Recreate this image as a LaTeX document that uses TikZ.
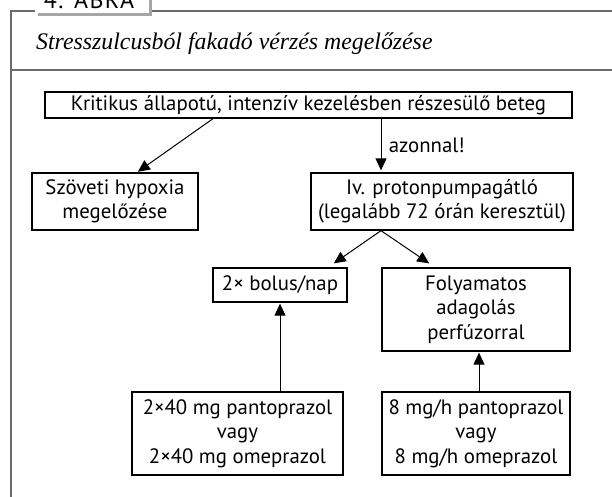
\documentclass[tikz,border=0pt]{standalone}
\usepackage{fontspec}
\setmainfont{PT Sans}
\newfontfamily\titlefont{Liberation Serif}
\newfontfamily\tabfont[LetterSpace=6]{PT Sans}
\usetikzlibrary{arrows.meta}
\begin{document}
\begin{tikzpicture}[x=1pt,y=-1pt,
  box/.style={draw=black, line width=1.3pt, rectangle, inner sep=0pt, align=center,
    font=\fontsize{20.8}{24.5}\selectfont},
  arr/.style={line width=1pt, -{Triangle[length=12pt,width=11pt]}},
  frameline/.style={draw=black!58, line width=2pt}]
\useasboundingbox (0,0) rectangle (612,497);
% frame
\draw[frameline] (11,497) -- (11,11) -- (35,11);
\draw[frameline] (152,11) -- (612,11);
\draw[frameline] (11,70) -- (612,70);
% tab
\fill[black!35] (38,-5) rectangle (152,16);
\fill[white] (35,-5) rectangle (149,13);
\node[anchor=base, inner sep=0pt, font=\tabfont\fontsize{24}{28}\selectfont] (tab) at (89,8.5) {4. ÁBRA};
% title
\node[anchor=base west, inner sep=0pt, font=\titlefont\itshape\fontsize{23.8}{28}\selectfont] (title) at (36,50) {Stresszulcusból fakadó vérzés megelőzése};
% boxes
\node[box, minimum width=527pt, minimum height=26pt] (main) at (308.5,105) {Kritikus állapotú, intenzív kezelésben részesülő beteg};
\node[box, minimum width=166pt, minimum height=57pt] (szov) at (115,201.5) {Szöveti hypoxia\\megelőzése};
\node[box, minimum width=262pt, minimum height=57pt] (iv) at (442,201.5) {Iv. protonpumpagátló\\(legalább 72 órán keresztül)};
\node[box, minimum width=134pt, minimum height=34pt] (bolus) at (280,285) {2× bolus/nap};
\node[box, minimum width=188pt, minimum height=83pt] (foly) at (476,309.5) {Folyamatos\\adagolás\\perfúzorral};
\node[box, minimum width=211pt, minimum height=83pt] (bl) at (237.5,433.5) {2×40 mg pantoprazol\\vagy\\2×40 mg omeprazol};
\node[box, minimum width=188pt, minimum height=83pt] (br) at (476,433.5) {8 mg/h pantoprazol\\vagy\\8 mg/h omeprazol};
% connector x positions
\coordinate (xa) at (213,0);
\coordinate (xb) at (137,0);
\coordinate (xc) at (381,0);
\coordinate (xd) at (328,0);
\coordinate (xe) at (435,0);
\coordinate (xf) at (280,0);
\coordinate (xg) at (479,0);
% connectors
\draw[arr, shorten >=1pt] (main.south -| xa) -- (szov.north -| xb);
\draw[arr, shorten >=2pt] (main.south -| xc) -- node[right, xshift=4pt, font=\fontsize{20.8}{24.5}\selectfont] (lab) {azonnal!} (iv.north -| xc);
\draw[arr, shorten >=7pt] (iv.south -| xc) -- (bolus.north -| xd);
\draw[arr, shorten >=7pt] (iv.south -| xc) -- (foly.north -| xe);
\draw[arr, shorten >=1pt] (bl.north -| xf) -- (bolus.south -| xf);
\draw[arr, shorten >=1pt] (br.north -| xg) -- (foly.south -| xg);
\end{tikzpicture}
\end{document}
